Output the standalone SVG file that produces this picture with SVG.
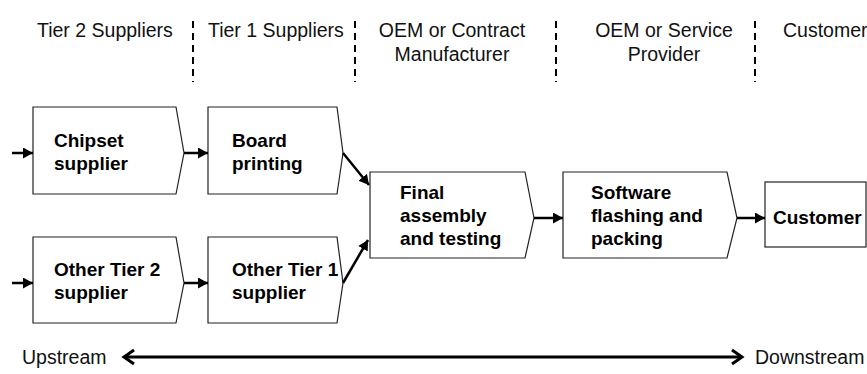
<svg xmlns="http://www.w3.org/2000/svg" width="867" height="374" viewBox="0 0 867 374">
<style>
.hdr{font-family:"Liberation Sans",Arial,sans-serif;font-size:19.5px;fill:#111}
.lbl{font-family:"Liberation Sans",Arial,sans-serif;font-size:19px;font-weight:bold;fill:#000}
.box{fill:#fff;stroke:#222;stroke-width:1.2}
.div{stroke:#000;stroke-width:2;stroke-dasharray:7 5}
.con{stroke:#000;stroke-width:2.5;fill:none}
.ud{stroke:#000;stroke-width:3;fill:none}
</style>
<defs>
<marker id="ah" markerUnits="userSpaceOnUse" markerWidth="10" markerHeight="11" refX="10" refY="5.5" orient="auto">
<path d="M0,0 L10,5.5 L0,11 z" fill="#000"/>
</marker>
<marker id="open" markerUnits="userSpaceOnUse" markerWidth="14" markerHeight="18" refX="11" refY="9" orient="auto-start-reverse">
<path d="M1,2 L11,9 L1,16" fill="none" stroke="#000" stroke-width="3"/>
</marker>
</defs>
<g id="headers">
<line class="div" x1="193" y1="21" x2="193" y2="82"/>
<line class="div" x1="355" y1="21" x2="355" y2="82"/>
<line class="div" x1="556" y1="21" x2="556" y2="82"/>
<line class="div" x1="755" y1="21" x2="755" y2="82"/>
<text class="hdr" x="37" y="36.5">Tier 2 Suppliers</text>
<text class="hdr" x="208" y="36.5">Tier 1 Suppliers</text>
<text class="hdr" x="452" y="36.5" text-anchor="middle">OEM or Contract</text>
<text class="hdr" x="452" y="60.5" text-anchor="middle">Manufacturer</text>
<text class="hdr" x="664" y="36.5" text-anchor="middle">OEM or Service</text>
<text class="hdr" x="664" y="60.5" text-anchor="middle">Provider</text>
<text class="hdr" x="783" y="36.5">Customer</text>
</g>
<g id="chipset">
<path class="box" d="M33,107 H176 L184,153 L176,194 H33 Z"/>
<text class="lbl" x="54" y="147">Chipset</text>
<text class="lbl" x="54" y="170">supplier</text>
</g>
<g id="board">
<path class="box" d="M208,107 H337 L343,153 L337,194 H208 Z"/>
<text class="lbl" x="232" y="147">Board</text>
<text class="lbl" x="232" y="170">printing</text>
</g>
<g id="othertier2">
<path class="box" d="M33,237 H176 L184,283 L176,323 H33 Z"/>
<text class="lbl" x="54" y="276">Other Tier 2</text>
<text class="lbl" x="54" y="299">supplier</text>
</g>
<g id="othertier1">
<path class="box" d="M208,237 H337 L343,283 L337,323 H208 Z"/>
<text class="lbl" x="232" y="276">Other Tier 1</text>
<text class="lbl" x="232" y="299">supplier</text>
</g>
<g id="final">
<path class="box" d="M370,172 H525 L534,218 L525,258 H370 Z"/>
<text class="lbl" x="400" y="199">Final</text>
<text class="lbl" x="400" y="222">assembly</text>
<text class="lbl" x="400" y="245">and testing</text>
</g>
<g id="software">
<path class="box" d="M563,172 H727 L737,218 L727,258 H563 Z"/>
<text class="lbl" x="591" y="199">Software</text>
<text class="lbl" x="591" y="222">flashing and</text>
<text class="lbl" x="591" y="245">packing</text>
</g>
<g id="customer">
<rect class="box" x="765" y="182" width="101" height="65"/>
<text class="lbl" x="773" y="224">Customer</text>
</g>
<g id="connectors">
<line class="con" x1="12" y1="153" x2="33" y2="153" marker-end="url(#ah)"/>
<line class="con" x1="12" y1="283" x2="33" y2="283" marker-end="url(#ah)"/>
<line class="con" x1="184" y1="153" x2="208" y2="153" marker-end="url(#ah)"/>
<line class="con" x1="184" y1="283" x2="208" y2="283" marker-end="url(#ah)"/>
<line class="con" x1="343" y1="153" x2="369" y2="185" marker-end="url(#ah)"/>
<line class="con" x1="343" y1="283" x2="368" y2="240" marker-end="url(#ah)"/>
<line class="con" x1="534" y1="218" x2="563" y2="218" marker-end="url(#ah)"/>
<line class="con" x1="737" y1="218" x2="765" y2="218" marker-end="url(#ah)"/>
</g>
<g id="direction">
<line class="ud" x1="124" y1="357" x2="742" y2="357" marker-start="url(#open)" marker-end="url(#open)"/>
<text class="hdr" x="22" y="364">Upstream</text>
<text class="hdr" x="755" y="364">Downstream</text>
</g>
</svg>
